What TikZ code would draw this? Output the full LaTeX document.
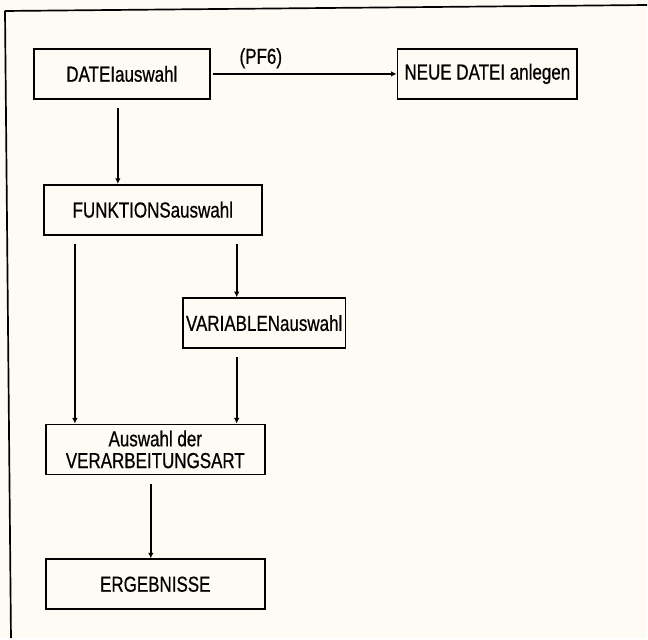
\documentclass[tikz,border=0pt]{standalone}
\usepackage{fontspec}
\setmainfont{Liberation Sans}[FakeStretch=0.78,FakeBold=0.6]
\usetikzlibrary{arrows.meta}
\definecolor{paper}{RGB}{253,251,243}
\begin{document}
\begin{tikzpicture}
  [x=0.025cm,y=-0.025cm,line width=1.2pt,
   box/.style={draw,minimum height=1.25cm,inner sep=0pt,align=center,
     font=\fontsize{15.5}{15.5}\selectfont},
   flow/.style={-{Latex[length=4pt,width=4pt]},shorten <=6pt}]
  \fill[paper] (0,0) rectangle (648,639);
  \draw (5,11) -- (648,5)
  (5,11) -- (11,639);
  \node[box,minimum width=4.4cm] (datei) at (122,74) {DATEIauswahl};
  \node[box,minimum width=4.5cm] (neu) at (488,74) {NEUE DATEI anlegen};
  \node[box,minimum width=5.45cm] (funktion) at (153,210) {FUNKTIONSauswahl};
  \node[box,minimum width=4.075cm] (variablen) at (264.5,323.5) {VARIABLENauswahl};
  \node[box,minimum width=5.475cm] (verarb) at (155.5,450) {Auswahl der\\VERARBEITUNGSART};
  \node[box,minimum width=5.475cm] (ergebnis) at (155.5,585) {ERGEBNISSE};
  \draw[flow,shorten <=1.5pt] (datei) -- node[pos=0.27,above,font=\fontsize{15.5}{15.5}\selectfont] {(PF6)} (neu);
  \draw[flow] (datei.south -| 118,0) -- (funktion.north -| 118,0);
  \draw[flow] (funktion.south -| 75,0) -- (verarb.north -| 75,0);
  \draw[flow] (funktion.south -| 237,0) -- (variablen.north -| 237,0);
  \draw[flow] (variablen.south -| 237,0) -- (verarb.north -| 237,0);
  \draw[flow] (verarb.south -| 151,0) -- (ergebnis.north -| 151,0);
\end{tikzpicture}
\end{document}
